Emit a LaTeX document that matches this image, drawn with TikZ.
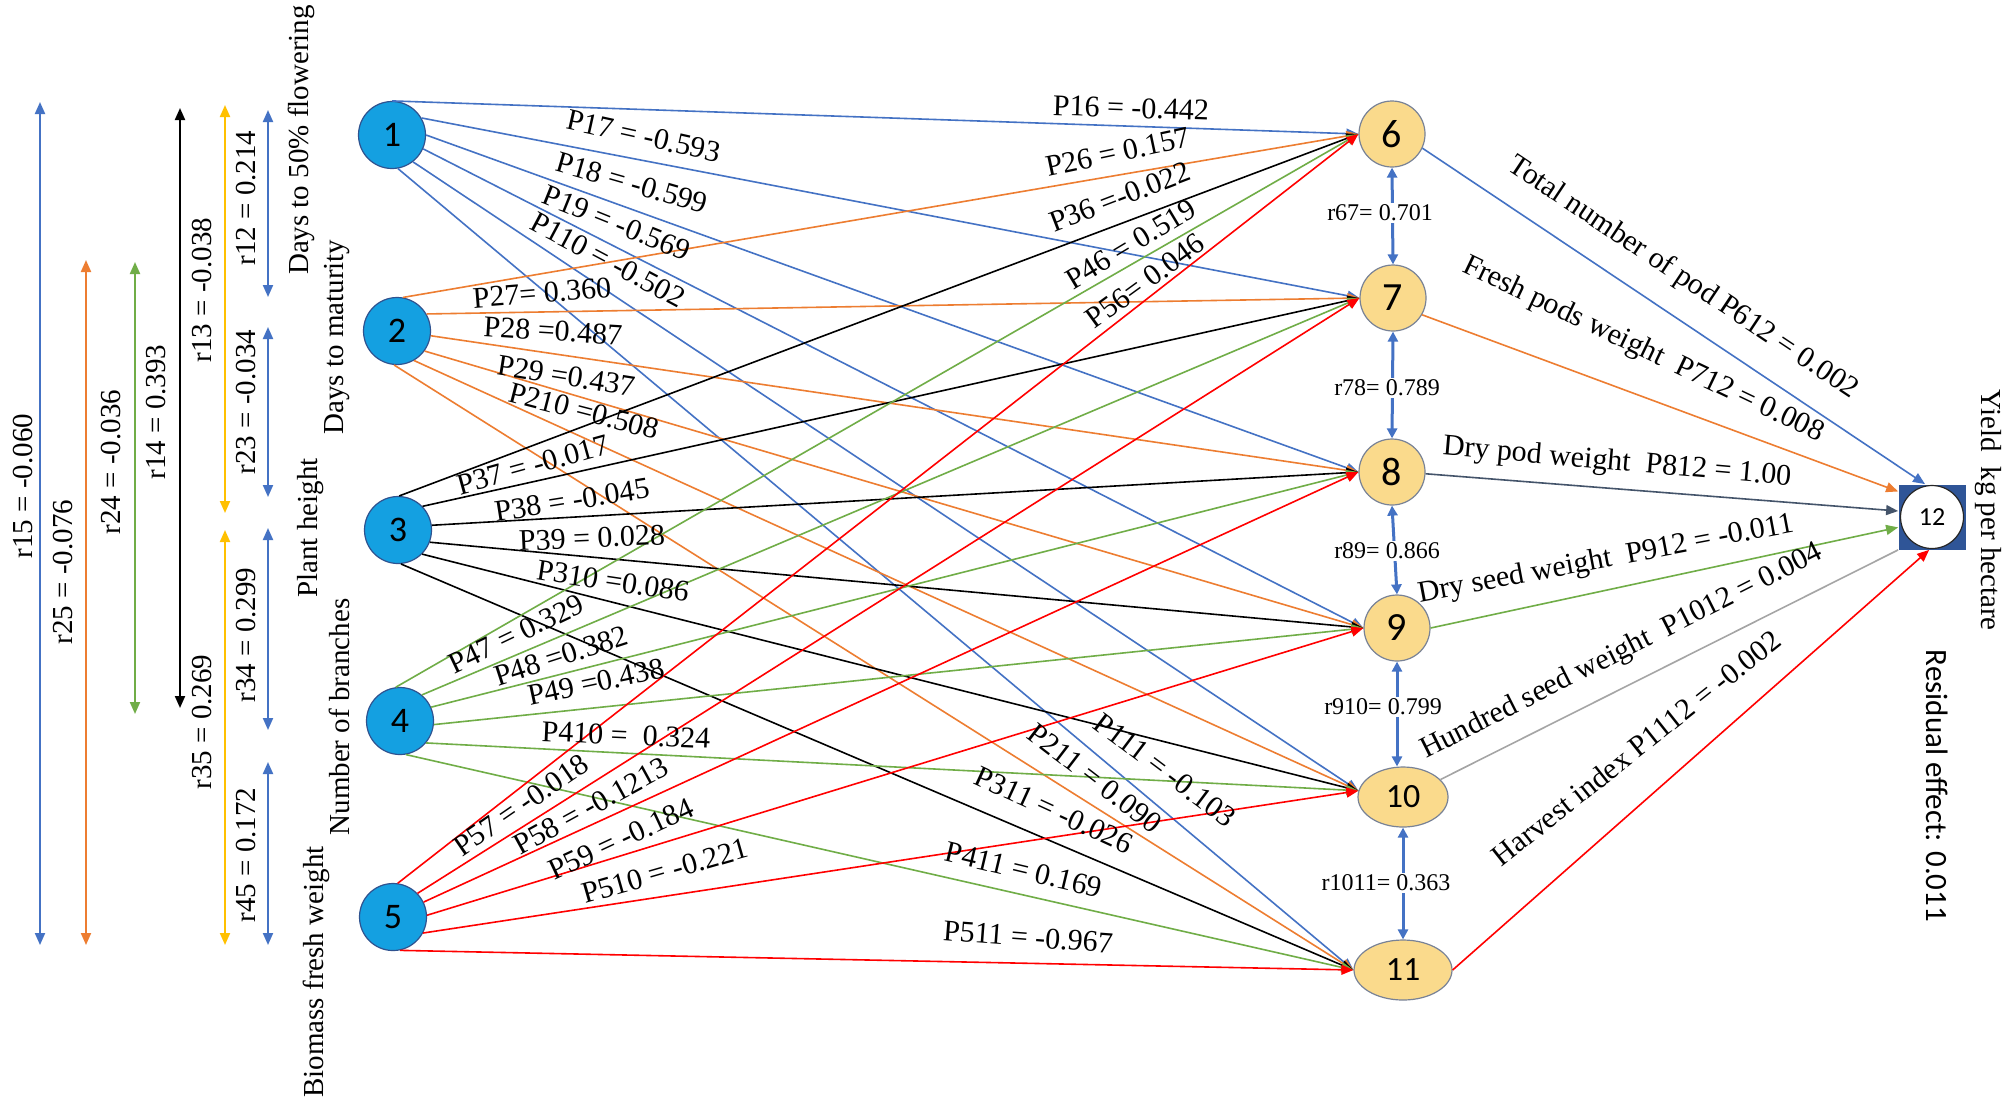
\documentclass[tikz,border=0pt]{standalone}
\usepackage{fontspec}
\setmainfont{Liberation Serif}
\newfontfamily\calib{Carlito}
\usetikzlibrary{arrows.meta,shapes.geometric}
\definecolor{cblue}{RGB}{68,114,196}
\definecolor{corange}{RGB}{237,125,49}
\definecolor{cgreen}{RGB}{112,173,71}
\definecolor{cyellow}{RGB}{255,192,0}
\definecolor{cred}{RGB}{255,0,0}
\definecolor{cgray}{RGB}{165,165,165}
\definecolor{cslate}{RGB}{68,84,106}
\definecolor{srcfill}{RGB}{20,160,225}
\definecolor{srcline}{RGB}{47,82,143}
\definecolor{tgtfill}{RGB}{250,218,140}
\definecolor{tgtline}{RGB}{120,130,150}
\definecolor{boxfill}{RGB}{47,85,151}
\tikzset{
 src/.style={circle, draw=srcline, line width=0.6pt, fill=srcfill, minimum size=33.5pt, inner sep=0pt, font=\calib\fontsize{18}{18}\selectfont},
 tgt/.style={circle, draw=tgtline, line width=0.6pt, fill=tgtfill, minimum size=33pt, inner sep=0pt, font=\calib\fontsize{20}{20}\selectfont},
 tgtell/.style={ellipse, draw=tgtline, line width=0.6pt, fill=tgtfill, inner sep=0pt, font=\calib\fontsize{17}{17}\selectfont},
 pe/.style={line width=0.8pt, -{Triangle[length=6pt,width=5pt]}},
 plab/.style={inner sep=0pt, font=\fontsize{15}{15}\selectfont},
 rlab/.style={inner sep=0pt, font=\fontsize{14.5}{14.5}\selectfont, rotate=90},
 rarr/.style={line width=1pt, {Triangle[length=6pt,width=5pt]}-{Triangle[length=6pt,width=5pt]}},
 carr/.style={line width=1.5pt, cblue, {Triangle[length=5pt,width=5pt]}-{Triangle[length=5pt,width=5pt]}},
 clab/.style={fill=white, inner sep=1pt, font=\fontsize{12}{12}\selectfont},
}
\begin{document}
\begin{tikzpicture}[x=0.5pt,y=-0.5pt]
\fill[white] (0,0) rectangle (2007,1105);
\useasboundingbox (0,0) rectangle (2007,1105);

% ---------- left correlation arrows ----------
\coordinate (r15a) at (40,102);  \coordinate (r15b) at (40,945);
\coordinate (r25a) at (86,260);  \coordinate (r25b) at (86,945);
\coordinate (r24a) at (135,262); \coordinate (r24b) at (135,714);
\coordinate (r14a) at (180,108); \coordinate (r14b) at (180,708);
\coordinate (r13a) at (225,105); \coordinate (r13b) at (225,513);
\coordinate (r35a) at (225,530); \coordinate (r35b) at (225,945);
\coordinate (r12a) at (268,110); \coordinate (r12b) at (268,297);
\coordinate (r23a) at (268,327); \coordinate (r23b) at (268,497);
\coordinate (r34a) at (268,528); \coordinate (r34b) at (268,730);
\coordinate (r45a) at (268,762); \coordinate (r45b) at (268,945);
\draw[rarr,cblue] (r15a) -- (r15b);
\draw[rarr,corange] (r25a) -- (r25b);
\draw[rarr,cgreen] (r24a) -- (r24b);
\draw[rarr,black] (r14a) -- (r14b);
\draw[rarr,cyellow] (r13a) -- (r13b);
\draw[rarr,cyellow] (r35a) -- (r35b);
\draw[rarr,cblue] (r12a) -- (r12b);
\draw[rarr,cblue] (r23a) -- (r23b);
\draw[rarr,cblue] (r34a) -- (r34b);
\draw[rarr,cblue] (r45a) -- (r45b);

\node[rlab] (lr15) at (23,486) {r15 = -0.060};
\node[rlab] (lr25) at (63,572) {r25 = -0.076};
\node[rlab] (lr24) at (111,462) {r24 = -0.036};
\node[rlab] (lr14) at (156,412) {r14 = 0.393};
\node[rlab] (lr13) at (202,290) {r13 = -0.038};
\node[rlab] (lr12) at (246,198) {r12 = 0.214};
\node[rlab] (lr23) at (246,402) {r23 = -0.034};
\node[rlab] (lr35) at (202,722) {r35 = 0.269};
\node[rlab] (lr34) at (246,635) {r34 = 0.299};
\node[rlab] (lr45) at (246,855) {r45 = 0.172};

\node[rlab] (v1) at (301,140) {Days to 50\% flowering};
\node[rlab] (v2) at (337,337) {Days to maturity};
\node[rlab] (v3) at (311,528) {Plant height};
\node[rlab] (v4) at (339,717) {Number of branches};
\node[rlab] (v5) at (316,972) {Biomass fresh weight};

% ---------- nodes ----------
\node[src] (n1) at (392,135) {1};
\node[src] (n2) at (397,331) {2};
\node[src] (n3) at (398,530) {3};
\node[src] (n4) at (400,721) {4};
\node[src] (n5) at (393,917) {5};

\node[tgt] (t6) at (1392,134) {6};
\node[tgt] (t7) at (1393,298) {7};
\node[tgt] (t8) at (1392,472) {8};
\node[tgt] (t9) at (1397,628) {9};
\node[tgtell, minimum width=45pt, minimum height=30pt] (t10) at (1403,797) {10};
\node[tgtell, minimum width=49pt, minimum height=30pt] (t11) at (1403,970) {11};

\node[rectangle, fill=boxfill, minimum width=33.5pt, minimum height=32.5pt, inner sep=0pt] (b12) at (1932,517) {};
\node[circle, draw=black!85, line width=0.6pt, fill=white, minimum size=31.5pt, inner sep=0pt, font=\calib\fontsize{13}{13}\selectfont] (c12) at (b12) {12};

% ---------- path edges ----------
\draw[pe,cblue] (n1.90) -- (t6.west);
\draw[pe,cblue] (n1.30) -- (t7.west);
\draw[pe,cblue] (n1.0) -- (t8.west);
\draw[pe,cblue] (n1.-24) -- (t9.west);
\draw[pe,cblue] (n1.-52) -- (t10.172);
\draw[pe,cblue] (n1.-80) -- (t11.west);

\draw[pe,corange] (n2.80) -- (t6.west);
\draw[pe,corange] (n2.30) -- (t7.west);
\draw[pe,corange] (n2.-8) -- (t8.west);
\draw[pe,corange] (n2.-36) -- (t9.west);
\draw[pe,corange] (n2.-60) -- (t10.172);
\draw[pe,corange] (n2.-95) -- (t11.west);

\draw[pe,black] (n3.88) -- (t6.west);
\draw[pe,black] (n3.44) -- (t7.west);
\draw[pe,black] (n3.8) -- (t8.west);
\draw[pe,black] (n3.-21) -- (t9.west);
\draw[pe,black] (n3.-45) -- (t10.172);
\draw[pe,black] (n3.-85) -- (t11.west);

\draw[pe,cgreen] (n4.97) -- (t6.west);
\draw[pe,cgreen] (n4.50) -- (t7.west);
\draw[pe,cgreen] (n4.24) -- (t8.west);
\draw[pe,cgreen] (n4.-6) -- (t9.west);
\draw[pe,cgreen] (n4.-40) -- (t10.172);
\draw[pe,cgreen] (n4.-80) -- (t11.west);

\draw[pe,cred] (n5.82) -- (t6.west);
\draw[pe,cred] (n5.44) -- (t7.west);
\draw[pe,cred] (n5.26) -- (t8.west);
\draw[pe,cred] (n5.3) -- (t9.west);
\draw[pe,cred] (n5.-28) -- (t10.172);
\draw[pe,cred] (n5.-78) -- (t11.west);

% ---------- edges to 12 ----------
\draw[pe,cblue] (t6.-25) -- (b12.102);
\draw[pe,corange] (t7.-30) -- (b12.143);
\draw[pe,cslate] (t8.-3) -- (b12.170);
\draw[pe,cgreen] (t9.east) -- (b12.197);
\draw[line width=0.8pt,cgray] (t10.25) -- (b12.south west);
\draw[pe,cred] (t11.east) -- (b12.-95);

% ---------- correlations among 6..11 ----------
\draw[carr] (t6.south) -- (t7.north);
\draw[carr] (t7.south) -- (t8.north);
\draw[carr] (t8.south) -- (t9.north);
\draw[carr] (t9.south) -- (t9.south |- t10.north);
\draw[carr] (t10.south) -- (t10.south |- t11.north);
\node[clab] (c67) at (1380,213) {r67= 0.701};
\node[clab] (c78) at (1387,388) {r78= 0.789};
\node[clab] (c89) at (1387,551) {r89= 0.866};
\node[clab] (c910) at (1383,707) {r910= 0.799};
\node[clab] (c1011) at (1386,883) {r1011= 0.363};

% ---------- P labels ----------
\node[plab, rotate=-2] (l16) at (1131,108) {P16 = -0.442};
\node[plab, rotate=12] (l26) at (1118,152) {P26 = 0.157};
\node[plab, rotate=21] (l36) at (1120,197) {P36 =-0.022};
\node[plab, rotate=31] (l46) at (1131,244) {P46 = 0.519};
\node[plab, rotate=36] (l56) at (1145,281) {P56= 0.046};

\node[plab, rotate=-12.5] (l17) at (644,136) {P17 = -0.593};
\node[plab, rotate=-16] (l18) at (632,183) {P18 = -0.599};
\node[plab, rotate=-22] (l19) at (617,223) {P19 = -0.569};
\node[plab, rotate=-28] (l110) at (608,260) {P110 = -0.502};

\node[plab, rotate=4.5] (l27) at (542,293) {P27= 0.360};
\node[plab, rotate=-3.5] (l28) at (553,331) {P28 =0.487};
\node[plab, rotate=-9] (l29) at (566,376) {P29 =0.437};
\node[plab, rotate=-14.5] (l210) at (584,411) {P210 =0.508};

\node[plab, rotate=15.5] (l37) at (533,465) {P37 = -0.017};
\node[plab, rotate=9] (l38) at (572,500) {P38 = -0.045};
\node[plab, rotate=2.5] (l39) at (592,538) {P39 = 0.028};
\node[plab, rotate=-8.5] (l310) at (613,581) {P310 =0.086};

\node[plab, rotate=25.5] (l47) at (516,634) {P47 = 0.329};
\node[plab, rotate=18] (l48) at (561,656) {P48 =0.382};
\node[plab, rotate=12] (l49) at (596,682) {P49 =0.438};
\node[plab, rotate=-2.5] (l410) at (626,735) {P410 = \ 0.324};

\node[plab, rotate=34.5] (l57) at (521,805) {P57 = -0.018};
\node[plab, rotate=28.7] (l58) at (591,806) {P58 = -0.1213};
\node[plab, rotate=25] (l59) at (621,839) {P59 = -0.184};
\node[plab, rotate=16] (l510) at (665,871) {P510 = -0.221};

\node[plab, rotate=-37] (l111) at (1165,770) {P111 = -0.103};
\node[plab, rotate=-37.5] (l211) at (1095,778) {P211 = 0.090};
\node[plab, rotate=-24.6] (l311) at (1054,810) {P311 = -0.026};
\node[plab, rotate=-13.4] (l411) at (1024,870) {P411 = 0.169};
\node[plab, rotate=-4.3] (l511) at (1028,937) {P511 = -0.967};

% ---------- right labels ----------
\node[plab, rotate=-33.7] (l612) at (1683,278) {Total number of pod P612 = 0.002};
\node[plab, rotate=-25.5] (l712) at (1643,350) {Fresh pods weight \ P712 = 0.008};
\node[plab, rotate=-5] (l812) at (1617,463) {Dry pod weight \ P812 = 1.00};
\node[plab, rotate=10.7] (l912) at (1606,560) {Dry seed weight \ P912 = -0.011};
\node[plab, rotate=26.8] (l1012) at (1622,652) {Hundred seed weight \ P1012 = 0.004};
\node[plab, rotate=38.4] (l1112) at (1636,748) {Harvest index P1112 = -0.002};

\node[plab, rotate=-90, font=\fontsize{14.5}{14.5}\selectfont] (yld) at (1988,510) {Yield \ kg per hectare};
\node[inner sep=0pt, rotate=-90, font=\calib\fontsize{15.5}{15.5}\selectfont] (res) at (1937,786) {Residual effect: 0.011};
\end{tikzpicture}
\end{document}
